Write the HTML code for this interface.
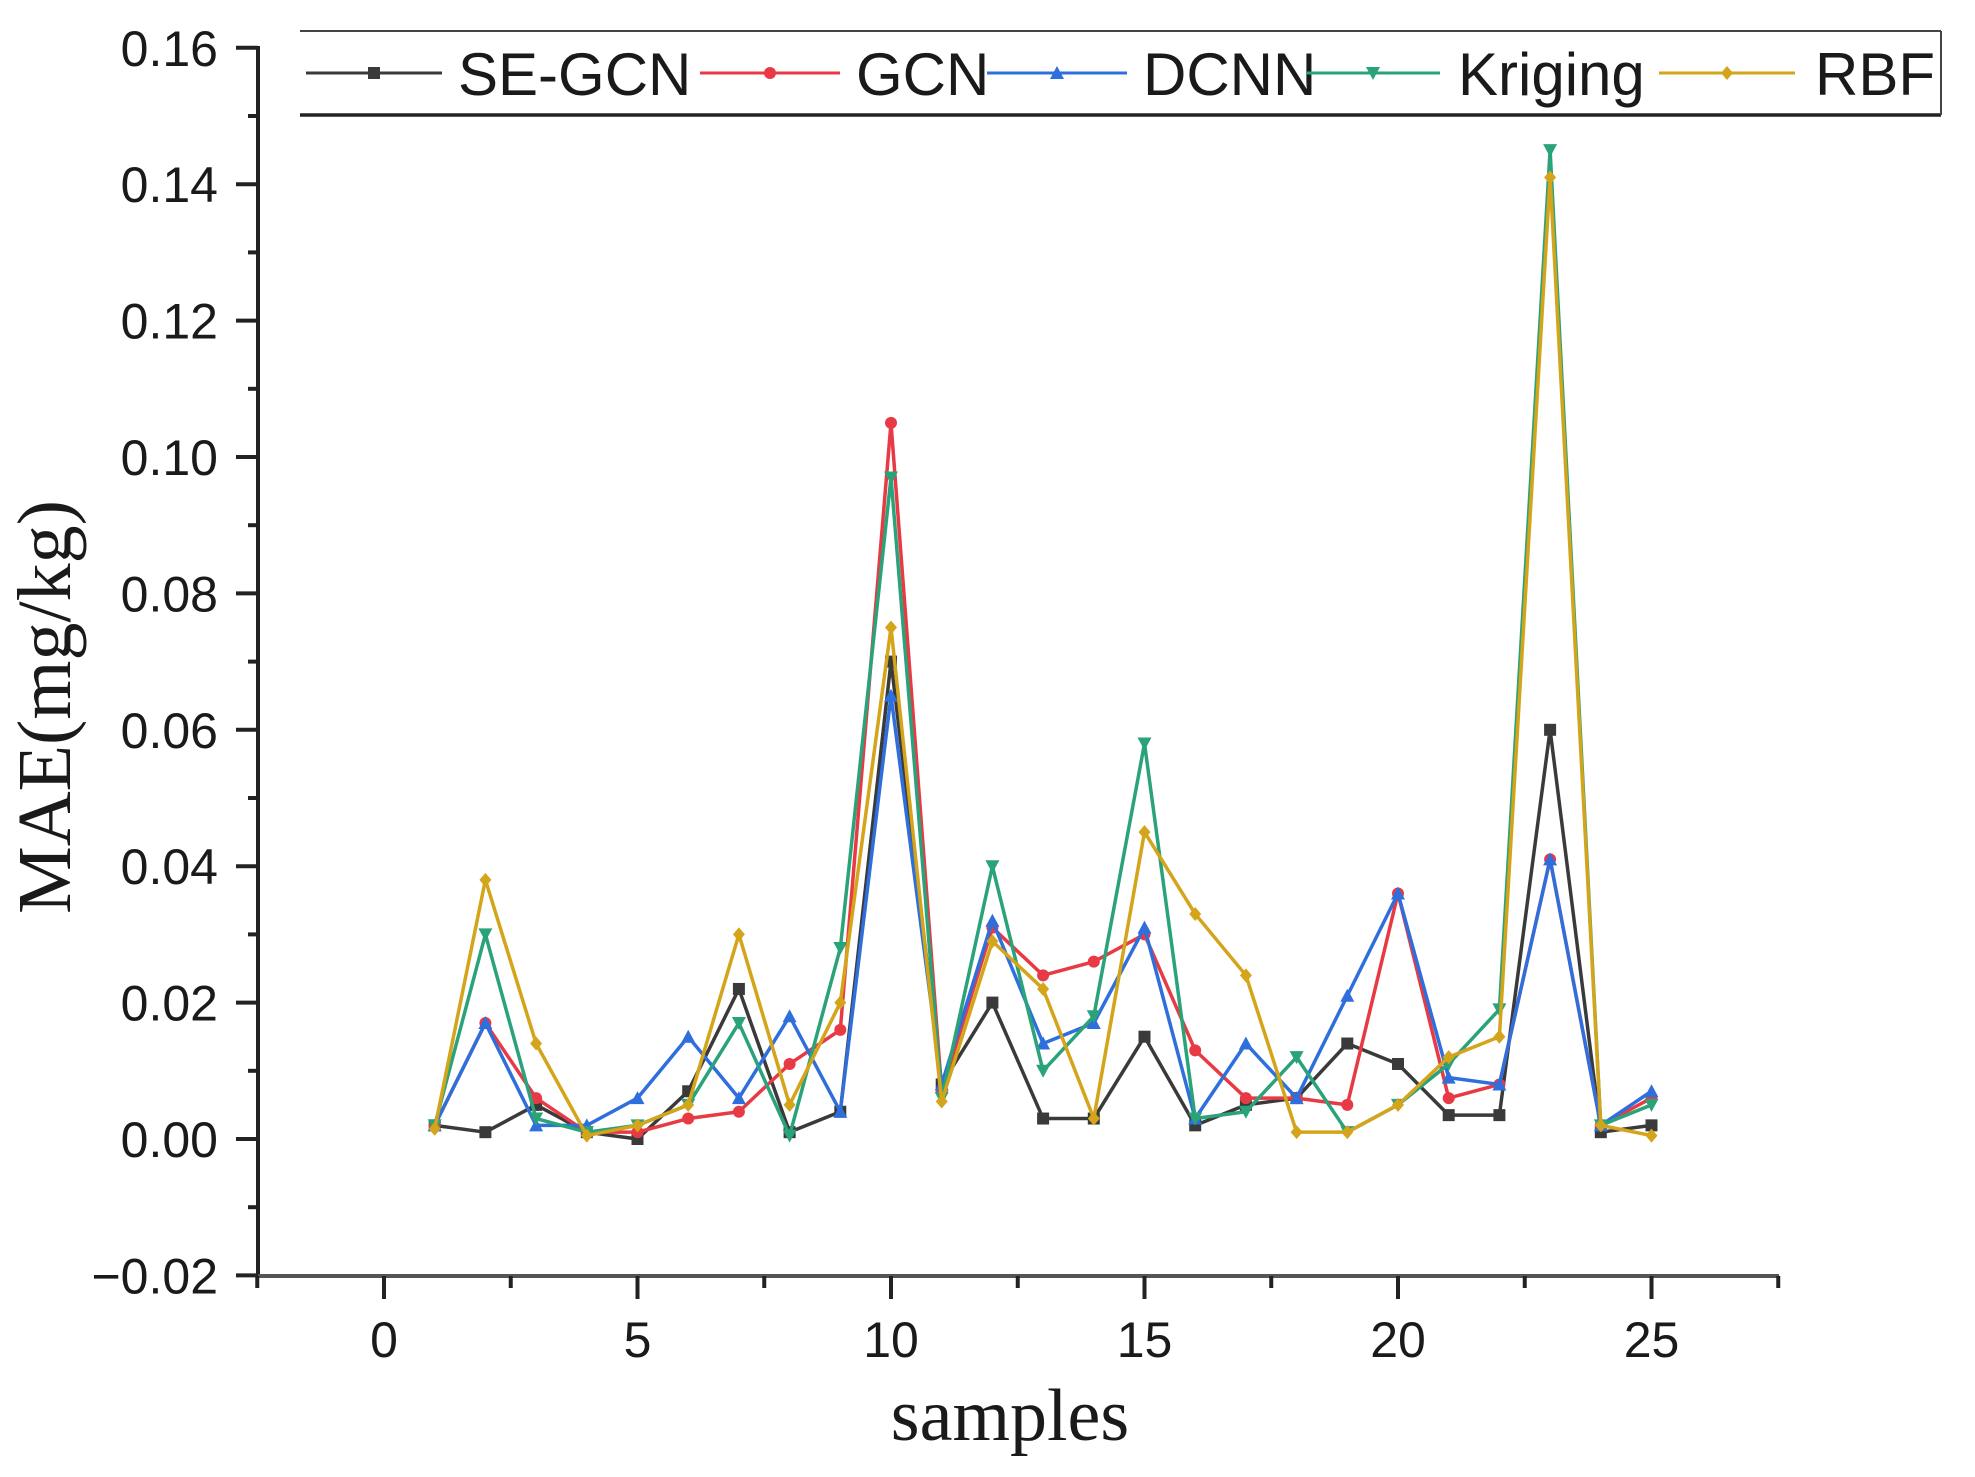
<!DOCTYPE html>
<html><head><meta charset="utf-8"><style>
html,body{margin:0;padding:0;background:#fff;}
svg{display:block;}
text{font-family:"Liberation Sans",sans-serif;fill:#1a1a1a;}
.serif{font-family:"Liberation Serif",serif;}
</style></head><body>
<svg id="s" width="1975" height="1477" viewBox="0 0 1975 1477" xmlns="http://www.w3.org/2000/svg">
<rect width="1975" height="1477" fill="#fff"/>
<g id="axes" stroke="#222" stroke-width="4" fill="none">
<line x1="258" y1="46" x2="258" y2="1278"/>
<line x1="256" y1="1276" x2="1779" y2="1276" stroke="#555"/>
</g>
<g id="ticks" stroke="#222" stroke-width="4"></g>
<g id="labels" font-size="50"></g>
<g id="series"></g>
<!-- legend -->
<line x1="300" y1="31" x2="1941" y2="31" stroke="#444" stroke-width="2"/>
<line x1="300" y1="115" x2="1941" y2="115" stroke="#222" stroke-width="3.5"/>
<line x1="1941" y1="31" x2="1941" y2="115" stroke="#444" stroke-width="2"/>
<g id="legend" font-size="60"></g>
<text class="serif" font-size="76" text-anchor="middle" transform="translate(70,707) rotate(-90)">MAE(mg/kg)</text>
<text class="serif" font-size="74" text-anchor="middle" x="1010" y="1440">samples</text>
</svg>
<script>
var NS="http://www.w3.org/2000/svg";
function el(t,a,p,txt){var e=document.createElementNS(NS,t);for(var k in a)e.setAttribute(k,a[k]);if(txt!=null)e.textContent=txt;p.appendChild(e);return e;}
var X=function(v){return 384+v*50.7;};
var Y=function(v){return 1139-v/0.02*136.4;};
var tk=document.getElementById('ticks'),lb=document.getElementById('labels');
for(var i=0;i<=18;i++){var v=-0.02+i*0.01;var y=Y(v);var maj=i%2==0;
el('line',{x1:maj?236:248,y1:y,x2:258,y2:y},tk);
if(maj){var s=v.toFixed(2);if(Math.abs(v)<1e-9)s="0.00";if(v<-1e-9)s="\u22120.02";el('text',{x:218,y:y+18,'text-anchor':'end'},lb,s);}}
for(var i=-1;i<=11;i++){var v=i*2.5;var x=X(v);var maj=i%2==0;
el('line',{x1:x,y1:1276,x2:x,y2:maj?1299:1288},tk);
if(maj)el('text',{x:x,y:1357,'text-anchor':'middle'},lb,String(v));}
var data=[
["SE-GCN","#3a3a3a","sq",[0.002,0.001,0.005,0.001,0.0,0.007,0.022,0.001,0.004,0.070,0.008,0.020,0.003,0.003,0.015,0.002,0.005,0.006,0.014,0.011,0.0035,0.0035,0.060,0.001,0.002]],
["GCN","#e83a44","ci",[0.002,0.017,0.006,0.001,0.001,0.003,0.004,0.011,0.016,0.105,0.007,0.031,0.024,0.026,0.030,0.013,0.006,0.006,0.005,0.036,0.006,0.008,0.041,0.002,0.006]],
["DCNN","#2f6fdc","tu",[0.002,0.017,0.002,0.002,0.006,0.015,0.006,0.018,0.004,0.065,0.008,0.032,0.014,0.017,0.031,0.003,0.014,0.006,0.021,0.036,0.009,0.008,0.041,0.002,0.007]],
["Kriging","#2aa37a","td",[0.002,0.030,0.003,0.001,0.002,0.005,0.017,0.0005,0.028,0.097,0.006,0.040,0.010,0.018,0.058,0.003,0.004,0.012,0.001,0.005,0.011,0.019,0.145,0.002,0.005]],
["RBF","#d4a41a","di",[0.0015,0.038,0.014,0.0005,0.002,0.005,0.030,0.005,0.020,0.075,0.0055,0.029,0.022,0.003,0.045,0.033,0.024,0.001,0.001,0.005,0.012,0.015,0.141,0.002,0.0005]]];
function marker(type,x,y,c,p){var r=6;
if(type=="sq")el('rect',{x:x-r,y:y-r,width:2*r,height:2*r,fill:c},p);
else if(type=="ci")el('circle',{cx:x,cy:y,r:r,fill:c},p);
else if(type=="tu")el('polygon',{points:(x)+","+(y-r-1)+" "+(x-r-1)+","+(y+r)+" "+(x+r+1)+","+(y+r),fill:c},p);
else if(type=="td")el('polygon',{points:(x)+","+(y+r+1)+" "+(x-r-1)+","+(y-r)+" "+(x+r+1)+","+(y-r),fill:c},p);
else el('polygon',{points:x+","+(y-r-1)+" "+(x+r)+","+y+" "+x+","+(y+r+1)+" "+(x-r)+","+y,fill:c},p);}
var sg=document.getElementById('series');
data.forEach(function(d){var pts=d[3].map(function(v,i){return X(i+1)+","+Y(v);}).join(" ");
el('polyline',{points:pts,fill:"none",stroke:d[1],'stroke-width':3.5,'stroke-linejoin':'round'},sg);
d[3].forEach(function(v,i){marker(d[2],X(i+1),Y(v),d[1],sg);});});
var lg=document.getElementById('legend');
var L=[[306,442,458],[700,840,856],[987,1127,1143],[1306,1440,1458],[1659,1795,1815]];
data.forEach(function(d,i){var l=L[i];
el('line',{x1:l[0],y1:73,x2:l[1],y2:73,stroke:d[1],'stroke-width':3},lg);
marker(d[2],(l[0]+l[1])/2,73,d[1],lg);
el('text',{x:l[2],y:95},lg,d[0]);});
</script>
</body></html>
